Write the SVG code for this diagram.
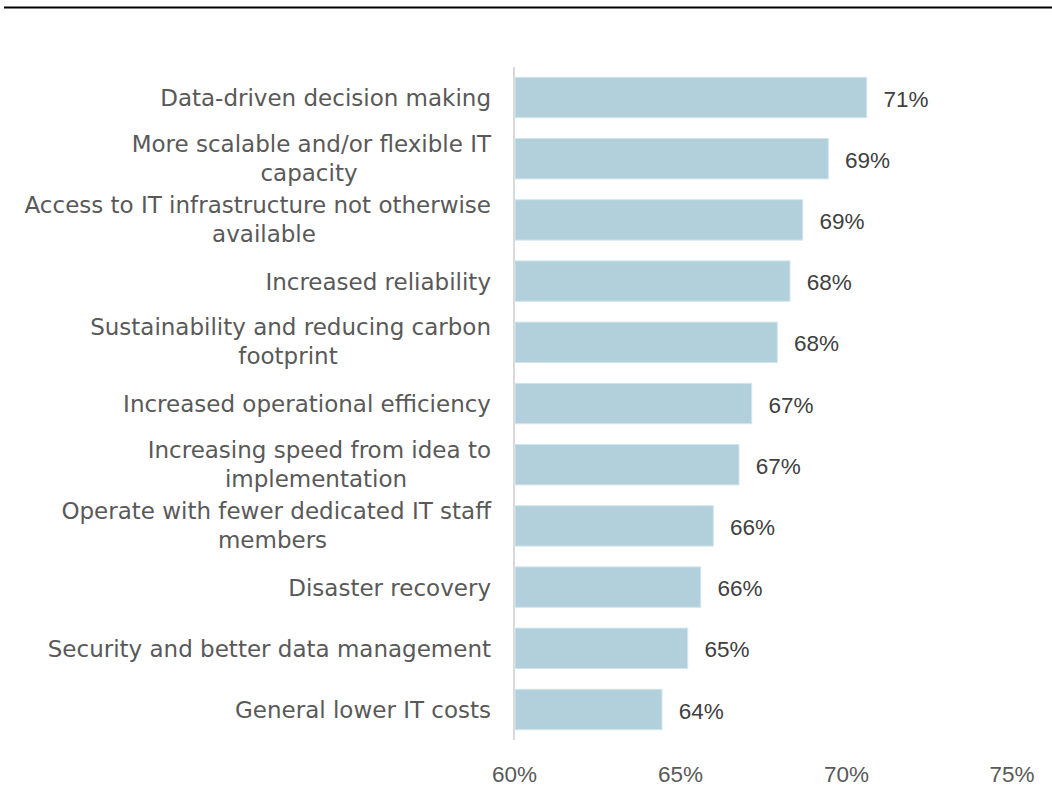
<svg xmlns="http://www.w3.org/2000/svg" width="1052" height="796" viewBox="0 0 1052 796">
<style>
.lbl{font-family:"DejaVu Sans","Liberation Sans",sans-serif;font-size:23px;fill:#595959}
.val{font-family:"Liberation Sans","DejaVu Sans",sans-serif;font-size:22.5px;fill:#404040}
.ax{font-family:"Liberation Sans","DejaVu Sans",sans-serif;font-size:22.5px;fill:#595959;text-anchor:middle}
.bar{fill:#b1d0dc;stroke:#d3e5ec;stroke-width:1}
</style>
<rect width="1052" height="796" fill="#ffffff"/>
<line x1="4" y1="7.5" x2="1052" y2="7.5" stroke="#000" stroke-width="2.2"/>
<g id="axis">
<line x1="514" y1="67" x2="514" y2="740" stroke="#d9d9d9" stroke-width="2"/>
<text class="ax" x="514.5" y="782">60%</text>
<text class="ax" x="680.5" y="782">65%</text>
<text class="ax" x="846.5" y="782">70%</text>
<text class="ax" x="1012" y="782">75%</text>
</g>
<g id="bar1"><rect class="bar" x="515" y="77.3" width="351.7" height="40.4"/><text class="lbl" x="491" y="106" text-anchor="end">Data-driven decision making</text><text class="val" x="883.4" y="106.5">71%</text></g>
<g id="bar2"><rect class="bar" x="515" y="138.5" width="313.3" height="40.4"/><text class="lbl" x="491" y="151.7" text-anchor="end">More scalable and/or flexible IT</text><text class="lbl" x="309" y="180.7" text-anchor="middle">capacity</text><text class="val" x="845" y="167.7">69%</text></g>
<g id="bar3"><rect class="bar" x="515" y="199.7" width="287.7" height="40.4"/><text class="lbl" x="491" y="212.9" text-anchor="end">Access to IT infrastructure not otherwise</text><text class="lbl" x="264" y="241.9" text-anchor="middle">available</text><text class="val" x="819.4" y="228.9">69%</text></g>
<g id="bar4"><rect class="bar" x="515" y="260.9" width="275" height="40.4"/><text class="lbl" x="491" y="289.6" text-anchor="end">Increased reliability</text><text class="val" x="806.7" y="290.1">68%</text></g>
<g id="bar5"><rect class="bar" x="515" y="322.1" width="262.3" height="40.4"/><text class="lbl" x="491" y="335.3" text-anchor="end">Sustainability and reducing carbon</text><text class="lbl" x="288" y="364.3" text-anchor="middle">footprint</text><text class="val" x="794" y="351.3">68%</text></g>
<g id="bar6"><rect class="bar" x="515" y="383.3" width="236.7" height="40.4"/><text class="lbl" x="491" y="412" text-anchor="end">Increased operational efficiency</text><text class="val" x="768.4" y="412.5">67%</text></g>
<g id="bar7"><rect class="bar" x="515" y="444.5" width="224" height="40.4"/><text class="lbl" x="491" y="457.7" text-anchor="end">Increasing speed from idea to</text><text class="lbl" x="316" y="486.7" text-anchor="middle">implementation</text><text class="val" x="755.7" y="473.7">67%</text></g>
<g id="bar8"><rect class="bar" x="515" y="505.7" width="198.3" height="40.4"/><text class="lbl" x="491" y="518.9" text-anchor="end">Operate with fewer dedicated IT staff</text><text class="lbl" x="272.5" y="547.9" text-anchor="middle">members</text><text class="val" x="730" y="534.9">66%</text></g>
<g id="bar9"><rect class="bar" x="515" y="566.9" width="185.7" height="40.4"/><text class="lbl" x="491" y="595.6" text-anchor="end">Disaster recovery</text><text class="val" x="717.4" y="596.1">66%</text></g>
<g id="bar10"><rect class="bar" x="515" y="628.1" width="172.7" height="40.4"/><text class="lbl" x="491" y="656.8" text-anchor="end">Security and better data management</text><text class="val" x="704.4" y="657.3">65%</text></g>
<g id="bar11"><rect class="bar" x="515" y="689.3" width="147" height="40.4"/><text class="lbl" x="491" y="718" text-anchor="end">General lower IT costs</text><text class="val" x="678.7" y="718.5">64%</text></g>
</svg>
